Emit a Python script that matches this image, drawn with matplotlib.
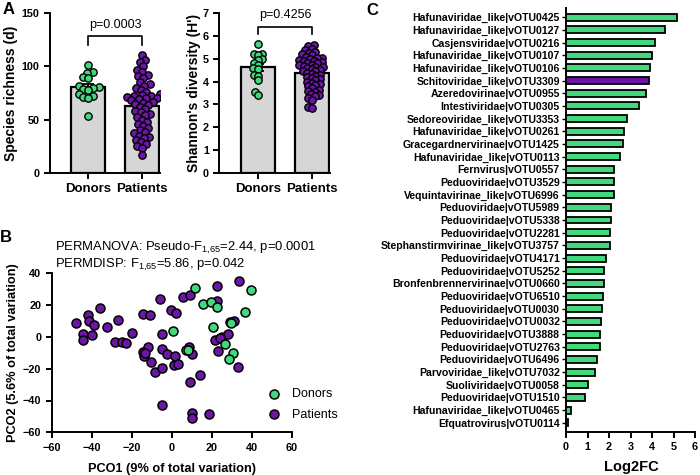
import numpy as np
import matplotlib
matplotlib.use('Agg')
import matplotlib.pyplot as plt

plt.rcParams['font.family'] = ['Liberation Sans', 'DejaVu Sans']
plt.rcParams['mathtext.fontset'] = 'custom'
plt.rcParams['mathtext.rm'] = 'Liberation Sans'
plt.rcParams['axes.linewidth'] = 1.4

GREEN = '#42d97e'
PURPLE = '#6c16a8'
GREY = '#d6d6d6'

# --- panel A data ---
groups = ['Donors', 'Patients']
richness_donors = [101, 95, 94, 90, 89, 82, 81, 80, 79, 78, 74, 72.5, 71, 70, 53.6]
richness_patients = [111, 106, 104, 100, 97, 95, 92, 91, 89, 85, 83, 82, 80, 78, 76,
                     74, 73, 72, 72, 71, 70, 70, 69, 68, 67, 66, 65, 64, 62, 60,
                     58, 57, 55, 54, 52, 50, 48, 46, 44, 42, 40, 38, 37, 35, 34,
                     33, 31, 29, 27, 25, 23, 17]
shannon_donors = [5.67, 5.22, 5.21, 5.17, 4.98, 4.95, 4.80, 4.75, 4.58, 4.55,
                  4.30, 4.25, 4.05, 3.55, 3.42]
shannon_patients = [5.62, 5.55, 5.45, 5.38, 5.3, 5.25, 5.2, 5.15, 5.1, 5.05,
                    5.02, 5.0, 4.95, 4.92, 4.9, 4.85, 4.82, 4.8, 4.75, 4.72,
                    4.7, 4.65, 4.62, 4.6, 4.55, 4.5, 4.48, 4.45, 4.4, 4.35,
                    4.3, 4.25, 4.2, 4.15, 4.1, 4.05, 4.0, 3.95, 3.9, 3.85,
                    3.8, 3.72, 3.65, 3.6, 3.55, 3.45, 3.4, 3.35, 3.28, 3.2,
                    2.88, 2.82]
p_richness = 'p=0.0003'
p_shannon = 'p=0.4256'

# --- panel B data (PCoA) ---
pco1_donors = [11.7, 39.7, 15.8, 19.7, 22.8, 36.7, 20.8, 29.2, 0.5, 7.0, 26.8, 30.8, 28.7, 29.5, 8.0]
pco2_donors = [31.0, 29.5, 21.0, 22.0, 19.0, 15.7, 6.0, 9.4, 3.7, -8.4, -4.7, -10.0, -14.0, 8.8, -8.0]
pco1_patients = [22.8, 33.7, 5.7, 9.2, -5.8, -0.5, 2.2, -14.2, -10.8, 22.5,
                 -35.8, -41.7, -41.3, -32.5, -38.7, -47.8, -26.7, -44.2, -44.2, -39.8,
                 -20.0, -28.3, -25.0, -22.8, -14.2, -13.8, -11.7, -10.5, -8.3, -4.7,
                 -4.7, -4.7, -2.2, 1.7, 1.2, 3.3, 8.8, 10.2, 14.3, 9.2,
                 -4.7, 10.0, 10.0, 18.8, 21.7, 25.0, 23.3, 28.3, 31.2, 33.3,
                 24.0, -13.3]
pco2_patients = [32.2, 35.2, 24.9, 26.6, 23.6, 17.0, 14.8, 14.2, 13.6, 22.8,
                 18.2, 14.0, 9.8, 6.0, 7.5, 9.0, 10.7, 1.8, -1.9, 1.4,
                 2.5, -3.0, -3.0, -4.0, -9.5, -12.0, -6.1, -15.5, -21.8, 2.0,
                 -7.4, -19.7, -10.7, -12.0, -17.7, -17.0, -6.1, -10.7, -24.0, -28.3,
                 -42.6, -47.6, -51.2, -48.3, -1.9, 0.2, -8.8, 1.6, 10.2, -19.1,
                 -0.5, -10.0]

# --- panel C data ---
votu_labels = ['Hafunaviridae_like|vOTU0425', 'Hafunaviridae_like|vOTU0127', 'Casjensviridae|vOTU0216',
               'Hafunaviridae_like|vOTU0107', 'Hafunaviridae_like|vOTU0106', 'Schitoviridae_like|vOTU3309',
               'Azeredovirinae|vOTU0955', 'Intestiviridae|vOTU0305', 'Sedoreoviridae_like|vOTU3353',
               'Hafunaviridae_like|vOTU0261', 'Gracegardnervirinae|vOTU1425', 'Hafunaviridae_like|vOTU0113',
               'Fernvirus|vOTU0557', 'Peduoviridae|vOTU3529', 'Vequintavirinae_like|vOTU6996',
               'Peduoviridae|vOTU5989', 'Peduoviridae|vOTU5338', 'Peduoviridae|vOTU2281',
               'Stephanstirmvirinae_like|vOTU3757', 'Peduoviridae|vOTU4171', 'Peduoviridae|vOTU5252',
               'Bronfenbrennervirinae|vOTU0660', 'Peduoviridae|vOTU6510', 'Peduoviridae|vOTU0030',
               'Peduoviridae|vOTU0032', 'Peduoviridae|vOTU3888', 'Peduoviridae|vOTU2763',
               'Peduoviridae|vOTU6496', 'Parvoviridae_like|vOTU7032', 'Suoliviridae|vOTU0058',
               'Peduoviridae|vOTU1510', 'Hafunaviridae_like|vOTU0465', 'Efquatrovirus|vOTU0114']
log2fc = [5.15, 4.62, 4.12, 3.98, 3.9, 3.84, 3.7, 3.41, 2.84, 2.68, 2.64, 2.5,
          2.25, 2.23, 2.22, 2.08, 2.08, 2.06, 2.05, 1.86, 1.78, 1.77, 1.72, 1.69,
          1.63, 1.58, 1.58, 1.46, 1.33, 1.02, 0.88, 0.25, 0.1]
votu_group = ['Donors'] * 33
votu_group[5] = 'Patients'

group_color = {'Donors': GREEN, 'Patients': PURPLE}

fig = plt.figure(figsize=(7, 4.75), dpi=100)
W, H = 700, 475


def px_axes(left, top, right, bottom):
    return fig.add_axes([left / W, 1 - bottom / H, (right - left) / W, (bottom - top) / H])


def swarm(ax, xc, vals, diam):
    tr = ax.transData
    pix = tr.transform(np.column_stack([np.full(len(vals), xc), vals]))
    x0 = pix[0, 0]
    placed = []
    out = np.zeros(len(vals))
    for i in np.argsort(pix[:, 1]):
        y = pix[i, 1]
        cands = [x0]
        for px, py in placed:
            dy = abs(py - y)
            if dy < diam:
                dx = np.sqrt(diam ** 2 - dy ** 2)
                cands += [px - dx, px + dx]
        cands.sort(key=lambda c: abs(c - x0))
        for c in cands:
            if all((c - px) ** 2 + (y - py) ** 2 >= diam ** 2 - 1e-6 for px, py in placed):
                break
        placed.append((c, y))
        out[i] = c
    return tr.inverted().transform(np.column_stack([out, pix[:, 1]]))[:, 0]


def bar_panel(ax, data, ylim, yticks, ylabel, ptext, bracket_gap, bracket_h, text_gap, diam):
    ax.set_xlim(-0.71, 1.33)
    ax.set_ylim(*ylim)
    ax.set_yticks(yticks)
    ax.set_xticks([0, 1])
    ax.set_xticklabels(groups, fontsize=9.5, fontweight='bold')
    for lab in ax.get_yticklabels():
        lab.set_fontweight('bold')
        lab.set_fontsize(7.8)
    ax.tick_params(axis='both', width=1.4, length=4)
    ax.spines['top'].set_visible(False)
    ax.spines['right'].set_visible(False)
    ax.set_ylabel(ylabel, fontsize=10, fontweight='bold')
    for i, (vals, g) in enumerate(zip(data, groups)):
        vals = np.asarray(vals)
        m = vals.mean()
        sem = vals.std(ddof=1) / np.sqrt(len(vals))
        ax.bar(i, m, width=0.63, color=GREY, edgecolor='black', linewidth=1.6, zorder=1)
        ax.errorbar(i, m, yerr=sem, color='black', capsize=4, elinewidth=1.3, capthick=1.3, zorder=2)
        xs = swarm(ax, i, vals, diam)
        ax.scatter(xs, vals, s=28, color=group_color[g], edgecolors='black', linewidths=1.0, zorder=3)
    top = max(max(d) for d in data)
    yb = top + bracket_gap
    ax.plot([0, 0, 1, 1], [yb, yb + bracket_h, yb + bracket_h, yb], color='black', lw=1.2, clip_on=False)
    ax.text(0.5, yb + bracket_h + text_gap, ptext, ha='center', va='center', fontsize=9)


# Panel A1
axA1 = px_axes(50, 13.3, 160, 172.7)
bar_panel(axA1, [richness_donors, richness_patients], (0, 150), [0, 50, 100, 150],
          'Species richness (d)', p_richness, 9, 9, 10, 5.4)
axA1.yaxis.set_label_coords(-0.29, 0.5)

# Panel A2
axA2 = px_axes(219.3, 13.3, 330, 172.7)
bar_panel(axA2, [shannon_donors, shannon_patients], (0, 7), range(8),
          "Shannon's diversity (H')", p_shannon, 0.41, 0.33, 0.52, 4.4)
axA2.yaxis.set_label_coords(-0.165, 0.5)

# Panel B
axB = px_axes(51.7, 273.3, 291.7, 432.3)
axB.scatter(pco1_patients, pco2_patients, s=42, color=PURPLE, edgecolors='black', linewidths=1.1,
            label='Patients', zorder=3)
axB.scatter(pco1_donors, pco2_donors, s=42, color=GREEN, edgecolors='black', linewidths=1.1,
            label='Donors', zorder=3)
axB.set_xlim(-60, 60)
axB.set_ylim(-60, 40)
axB.set_xticks(range(-60, 61, 20))
axB.set_yticks(range(-60, 41, 20))
for lab in axB.get_xticklabels() + axB.get_yticklabels():
    lab.set_fontweight('bold')
    lab.set_fontsize(7.8)
axB.tick_params(axis='both', width=1.4, length=4)
axB.spines['top'].set_visible(False)
axB.spines['right'].set_visible(False)
axB.set_xlabel('PCO1 (9% of total variation)', fontsize=9.2, fontweight='bold')
axB.set_ylabel('PCO2 (5.6% of total variation)', fontsize=9.2, fontweight='bold')
axB.yaxis.set_label_coords(-0.138, 0.5)
axB.xaxis.set_label_coords(0.5, -0.19)
axB.xaxis.label.set_va('top')
handles, labels = axB.get_legend_handles_labels()
axB.legend(handles[::-1], labels[::-1], loc='center left', bbox_to_anchor=(0.879, 0.177),
           frameon=False, fontsize=9, handlelength=1.0, handletextpad=0.95,
           labelspacing=0.7, borderaxespad=0)
axB.text(0.014, 1.142, r'PERMANOVA: Pseudo-F$_{1{,}65}$=2.44, p=0.0001', transform=axB.transAxes,
         fontsize=9.4, va='baseline', ha='left')
axB.text(0.014, 1.038, r'PERMDISP: F$_{1{,}65}$=5.86, p=0.042', transform=axB.transAxes,
         fontsize=9.4, va='baseline', ha='left')

# Panel C
axC = px_axes(566, 8.3, 695, 431.7)
ypos = np.arange(len(votu_labels))
axC.barh(ypos, log2fc, height=0.55, color=[group_color[g] for g in votu_group],
         edgecolor='black', linewidth=1.3, zorder=2)
axC.set_ylim(len(votu_labels) - 1 + 0.7, -0.7)
axC.set_xlim(0, 6)
axC.set_xticks(range(7))
axC.set_yticks(ypos)
axC.set_yticklabels(votu_labels, fontsize=7.6, fontweight='bold')
for lab in axC.get_xticklabels():
    lab.set_fontweight('bold')
    lab.set_fontsize(7.8)
axC.tick_params(axis='y', width=1.0, length=3, pad=1.5)
axC.tick_params(axis='x', width=1.4, length=4)
axC.spines['top'].set_visible(False)
axC.spines['right'].set_visible(False)
axC.set_xlabel('Log2FC', fontsize=10.5, fontweight='bold')
axC.xaxis.set_label_coords(0.506, -0.067)
axC.xaxis.label.set_va('top')

fig.text(3 / W, 1 - 2 / H, 'A', fontsize=12, fontweight='bold', va='top', ha='left')
fig.text(0 / W, 1 - 230 / H, 'B', fontsize=12, fontweight='bold', va='top', ha='left')
fig.text(366 / W, 1 - 3 / H, 'C', fontsize=12, fontweight='bold', va='top', ha='left')

fig.savefig('out.png', dpi=100)
